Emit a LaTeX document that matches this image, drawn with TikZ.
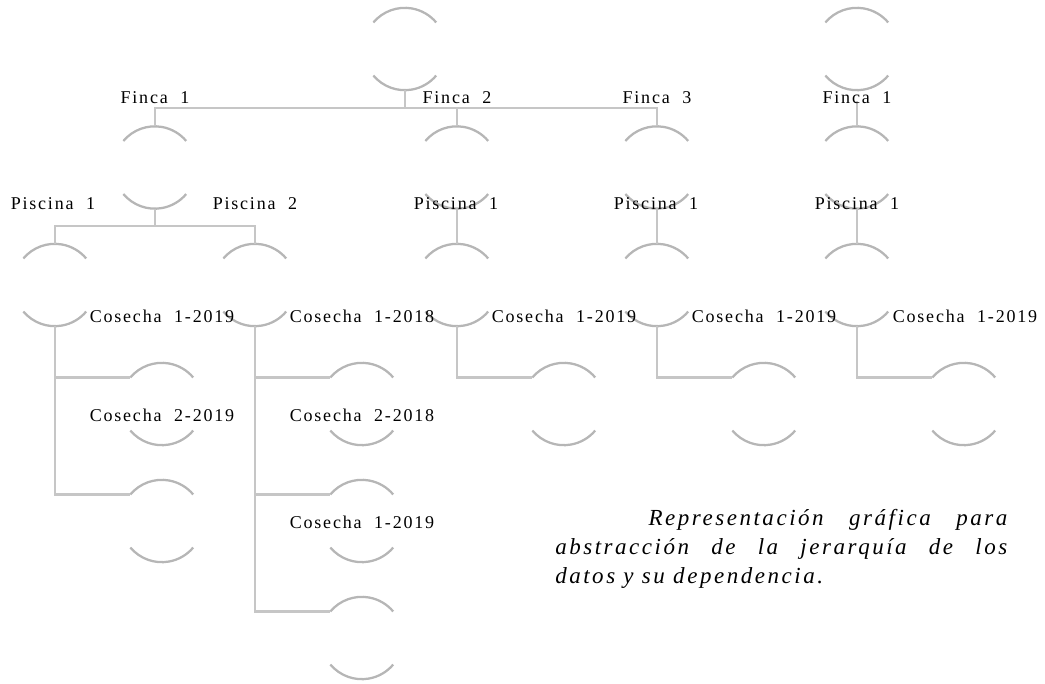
\documentclass[tikz,border=0pt]{standalone}
\usepackage{fontspec}
\setmainfont{Liberation Serif}
\newfontfamily\lblfont[LetterSpace=10]{Liberation Serif}
\newfontfamily\capfont[LetterSpace=11]{Liberation Serif}
\usepackage{xcolor}
\usepackage{tikz}
\usetikzlibrary{calc}

\definecolor{rimgray}{RGB}{182,182,182}
\definecolor{linkgray}{RGB}{198,198,198}

\begin{document}
\begin{tikzpicture}[x=0.75pt,y=0.75pt,
  ring/.style={circle,minimum size=61.5pt,inner sep=0pt},
  rim/.style={line width=1.7pt,rimgray},
  link/.style={line width=1.6pt,linkgray},
  lbl/.style={anchor=base,inner sep=0pt,font=\lblfont\fontsize{13.5pt}{16pt}\selectfont}]
\useasboundingbox (0,0) rectangle (1045,-683);
% first tree
\node[ring] (root) at (405,-49) {};
\node[ring] (f1) at (155,-167.5) {};
\node[ring] (f2) at (457,-167.5) {};
\node[ring] (f3) at (657,-167.5) {};
\node[ring] (p11) at (55,-285) {};
\node[ring] (p12) at (255,-285) {};
\node[ring] (p21) at (457,-285) {};
\node[ring] (p31) at (657,-285) {};
\node[ring] (c111) at (162,-404) {};
\node[ring] (c112) at (162,-521) {};
\node[ring] (c121) at (362,-404) {};
\node[ring] (c122) at (362,-521) {};
\node[ring] (c123) at (362,-638) {};
\node[ring] (c211) at (564,-404) {};
\node[ring] (c311) at (764,-404) {};
% second tree
\node[ring] (rootb) at (857,-49) {};
\node[ring] (g1) at (857,-167.5) {};
\node[ring] (q1) at (857,-285) {};
\node[ring] (d1) at (964,-404) {};

\foreach \n in {root,f1,f2,f3,p11,p12,p21,p31,c111,c112,c121,c122,c123,c211,c311,rootb,g1,q1,d1}{
  \draw[rim] (\n.140) arc[start angle=140,end angle=40,radius=30.75pt];
  \draw[rim] (\n.220) arc[start angle=220,end angle=320,radius=30.75pt];
}

% connectors
\coordinate (bus) at ($(root.south)+(0,-18)$);
\coordinate (bus1) at ($(f1.south)+(0,-17.5)$);
\coordinate (gtop) at ($(g1.north)+(0,25)$);
\draw[link] (root.south) -- (bus);
\draw[link] (f1.north) |- (bus) -| (f3.north);
\draw[link] (f2.north) -- (f2.north |- bus);
\draw[link] (f1.south) -- (bus1);
\draw[link] (p11.north) |- (bus1) -| (p12.north);
\draw[link] (f2.south) -- (p21.north);
\draw[link] (f3.south) -- (p31.north);
\draw[link] (p11.south) |- (c111.140);
\draw[link] (p11.south) |- (c112.140);
\draw[link] (p12.south) |- (c121.140);
\draw[link] (p12.south) |- (c122.140);
\draw[link] (p12.south) |- (c123.140);
\draw[link] (p21.south) |- (c211.140);
\draw[link] (p31.south) |- (c311.140);
\draw[link] (gtop) -- (g1.north);
\draw[link] (g1.south) -- (q1.north);
\draw[link] (q1.south) |- (d1.140);

% labels
\node[lbl] (lf1) at (155,-103) {Finca\ \ 1};
\node[lbl] (lf2) at (457,-103) {Finca\ \ 2};
\node[lbl] (lf3) at (657,-103) {Finca\ \ 3};
\node[lbl] (lg1) at (857,-103) {Finca\ \ 1};
\node[lbl] (lp11) at (53,-209) {Piscina\ \ 1};
\node[lbl] (lp12) at (255,-209) {Piscina\ \ 2};
\node[lbl] (lp21) at (456,-209) {Piscina\ \ 1};
\node[lbl] (lp31) at (656,-209) {Piscina\ \ 1};
\node[lbl] (lq1) at (857,-209) {Piscina\ \ 1};
\node[lbl] (lc111) at (162,-322) {Cosecha\ \ 1-2019};
\node[lbl] (lc121) at (362,-322) {Cosecha\ \ 1-2018};
\node[lbl] (lc211) at (564,-322) {Cosecha\ \ 1-2019};
\node[lbl] (lc311) at (764,-322) {Cosecha\ \ 1-2019};
\node[lbl] (ld1) at (965,-322) {Cosecha\ \ 1-2019};
\node[lbl] (lc112) at (162,-421) {Cosecha\ \ 2-2019};
\node[lbl] (lc122) at (362,-421) {Cosecha\ \ 2-2018};
\node[lbl] (lc123) at (362,-528) {Cosecha\ \ 1-2019};

% caption
\node[anchor=north west,inner sep=0pt,text width=339pt,align=justify,
  font=\capfont\itshape\fontsize{17.25pt}{21.75pt}\selectfont] (capt) at (555,-509)
  {\hspace*{70pt}Representación gráfica para\linebreak
   abstracción de la jerarquía de los\linebreak
   datos y su dependencia.};
\end{tikzpicture}
\end{document}
